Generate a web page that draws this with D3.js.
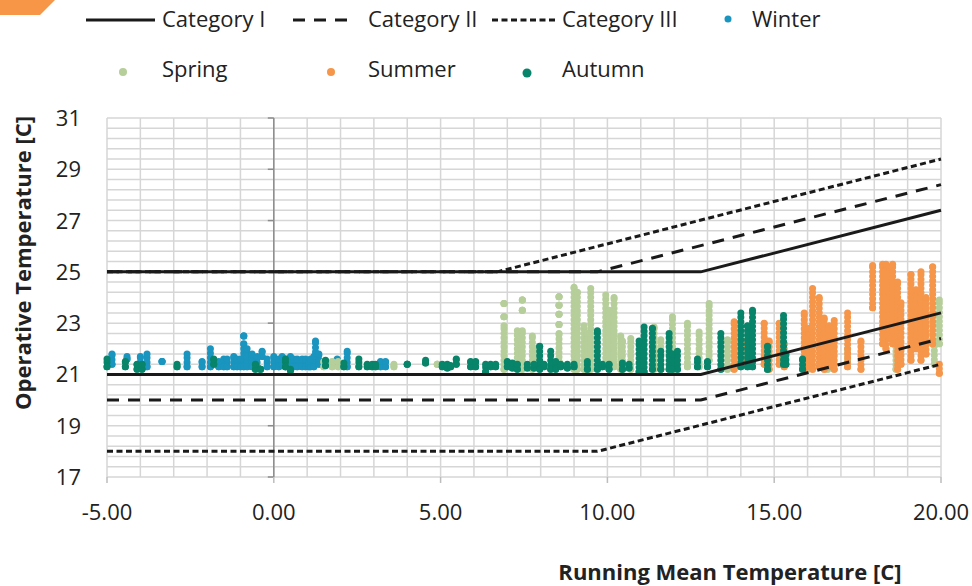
<!DOCTYPE html>
<html>
<head>
<meta charset="utf-8">
<script src="https://cdn.jsdelivr.net/npm/d3@7/dist/d3.min.js"></script>
<style>
  body { margin: 0; background: #fff; }
  svg { display: block; font-family: "Open Sans", "Liberation Sans", sans-serif; }
</style>
</head>
<body>
<svg id="chart" width="972" height="586"></svg>
<script>
// axis ticks
const xTicks = [-5, 0, 5, 10, 15, 20];
const yTicks = [17, 19, 21, 23, 25, 27, 29, 31];

// comfort category limits (upper and lower), as [x, y] vertices
const catI = [[[-5, 25], [12.8, 25], [20, 27.4]], [[-5, 21], [12.8, 21], [20, 23.4]]];
const catII = [[[-5, 25], [9.7, 25], [20, 28.4]], [[-5, 20], [12.8, 20], [20, 22.4]]];
const catIII = [[[-5, 25], [6.7, 25], [20, 29.4]], [[-5, 18], [9.7, 18], [20, 21.4]]];

// measured points, as stacks [running mean, lowest op. temp, highest op. temp]
const winter = [
  [-4.85, 21.4, 21.8], [-4.4, 21.6, 21.7], [-4.0, 21.3, 21.7], [-3.8, 21.3, 21.8],
  [-3.35, 21.5, 21.5], [-2.6, 21.3, 21.8], [-2.15, 21.3, 21.5], [-1.9, 21.3, 22.0],
  [-1.65, 21.3, 21.5], [-1.5, 21.3, 21.6], [-1.4, 21.3, 21.6], [-1.2, 21.3, 21.7],
  [-1.1, 21.3, 21.6], [-1.0, 21.3, 21.6], [-0.9, 21.3, 22.2], [-0.9, 22.5, 22.5],
  [-0.8, 21.3, 22.0], [-0.65, 21.3, 21.8], [-0.5, 21.3, 21.7], [-0.35, 21.7, 21.9],
  [-0.2, 21.3, 21.6], [0.0, 21.3, 21.7], [0.15, 21.3, 21.6], [0.25, 21.4, 21.7],
  [0.35, 21.3, 21.6], [0.5, 21.3, 21.7], [0.6, 21.3, 21.6], [0.7, 21.3, 21.6],
  [0.85, 21.3, 21.6], [0.95, 21.3, 21.6], [1.05, 21.3, 21.5], [1.1, 21.3, 21.6],
  [1.2, 21.3, 21.7], [1.25, 21.7, 22.3], [1.35, 21.4, 21.8], [1.9, 21.4, 21.6],
  [2.2, 21.3, 21.9], [3.2, 21.3, 21.5], [3.35, 21.3, 21.5]
];
const spring = [
  [1.5, 21.3, 21.5], [1.75, 21.3, 21.5], [1.93, 21.3, 21.5], [3.6, 21.3, 21.4],
  [4.9, 21.4, 21.4], [6.9, 21.2, 22.9], [6.9, 23.25, 23.25], [6.9, 23.77, 23.77],
  [7.3, 21.3, 22.7], [7.45, 21.2, 22.7], [7.45, 23.5, 23.5], [7.45, 23.9, 23.9],
  [7.75, 21.2, 22.5], [7.85, 21.3, 22.0], [8.55, 21.5, 22.6], [8.55, 22.95, 22.95],
  [8.55, 23.35, 23.35], [8.55, 23.7, 23.7], [8.55, 24.03, 24.03], [9.0, 21.2, 24.4],
  [9.1, 21.2, 24.2], [9.3, 21.2, 22.9], [9.4, 21.2, 22.6], [9.5, 21.2, 24.35],
  [9.95, 21.3, 24.1], [10.05, 21.4, 23.5], [10.2, 21.3, 24.0], [10.4, 21.2, 22.5],
  [10.45, 21.2, 22.3], [10.7, 21.2, 22.4], [11.4, 21.2, 22.85], [11.6, 21.2, 22.35],
  [11.95, 21.2, 23.25], [12.4, 21.3, 23.0], [12.75, 21.3, 22.65], [13.05, 21.55, 23.77],
  [13.6, 21.2, 22.35], [14.8, 21.2, 22.3], [16.0, 21.2, 21.6], [16.6, 21.2, 21.4],
  [17.2, 21.4, 22.0], [18.65, 21.2, 23.0], [19.8, 21.4, 22.2], [19.95, 22.2, 23.9]
];
const summer = [
  [13.8, 21.2, 23.05], [14.2, 21.55, 22.35], [14.7, 21.4, 23.0], [14.85, 21.2, 22.3],
  [15.15, 21.4, 23.0], [15.3, 21.3, 22.2], [15.9, 21.2, 23.4], [16.05, 21.3, 22.8],
  [16.15, 21.2, 24.35], [16.35, 21.3, 24.0], [16.5, 21.2, 23.2], [16.65, 21.3, 22.9],
  [16.8, 21.2, 23.1], [17.2, 21.3, 23.4], [17.6, 21.2, 22.3], [17.95, 23.6, 25.25],
  [18.25, 22.2, 25.3], [18.35, 22.0, 25.3], [18.45, 22.4, 25.2], [18.55, 22.2, 25.3],
  [18.7, 21.2, 24.6], [18.8, 21.4, 23.8], [19.1, 21.55, 24.9], [19.25, 22.0, 24.3],
  [19.4, 21.55, 25.0], [19.55, 21.8, 24.0], [19.75, 22.2, 25.2], [19.95, 21.05, 21.4]
];
const autumn = [
  [-5.0, 21.3, 21.6], [-4.45, 21.3, 21.5], [-4.1, 21.2, 21.4], [-3.95, 21.2, 21.4],
  [-2.9, 21.3, 21.4], [-1.8, 21.4, 21.6], [-0.55, 21.2, 21.4], [-0.4, 21.2, 21.2],
  [0.35, 21.3, 21.6], [0.5, 21.15, 21.2], [1.55, 21.35, 21.55], [2.1, 21.3, 21.45],
  [2.55, 21.3, 21.6], [2.8, 21.3, 21.4], [2.95, 21.3, 21.4], [3.05, 21.3, 21.4],
  [4.0, 21.4, 21.4], [4.55, 21.45, 21.55], [5.05, 21.3, 21.4], [5.2, 21.25, 21.4],
  [5.3, 21.3, 21.35], [5.47, 21.4, 21.6], [5.9, 21.3, 21.5], [6.05, 21.3, 21.5],
  [6.35, 21.1, 21.4], [6.5, 21.3, 21.4], [6.65, 21.3, 21.4], [7.0, 21.3, 21.5],
  [7.15, 21.25, 21.45], [7.3, 21.2, 21.4], [7.6, 21.25, 21.4], [7.8, 21.25, 21.4],
  [7.97, 21.2, 22.1], [8.1, 21.3, 21.4], [8.3, 21.2, 21.9], [8.45, 21.2, 21.5],
  [8.6, 21.3, 21.4], [8.8, 21.25, 21.4], [9.0, 21.3, 21.4], [9.4, 21.2, 21.5],
  [9.7, 21.2, 22.7], [9.85, 21.3, 21.4], [10.05, 21.2, 21.4], [10.45, 21.2, 21.45],
  [10.65, 21.25, 21.4], [10.95, 21.1, 22.3], [11.1, 21.1, 22.85], [11.35, 21.2, 22.8],
  [11.6, 21.2, 21.9], [11.85, 21.2, 22.6], [11.95, 21.2, 21.8], [12.1, 21.2, 21.9],
  [12.7, 21.3, 21.6], [13.0, 21.3, 21.5], [13.4, 21.2, 22.6], [14.0, 21.3, 23.4],
  [14.2, 21.3, 22.9], [14.35, 21.3, 23.5], [14.8, 21.2, 22.1], [15.28, 21.4, 23.3],
  [15.35, 21.4, 21.8], [15.85, 21.2, 21.6]
];

const svg = d3.select("#chart");
const margin = {left: 107, right: 31, top: 118, bottom: 109};
const W = 972, H = 586;

let x = d3.scaleLinear().domain([-5, 20]).range([margin.left, W - margin.right]);
let y = d3.scaleLinear().domain([17, 31]).range([H - margin.bottom, margin.top]);

const textColor = "#222";
const gridColor = "#d6d6d6";
const colors = {winter: "#1995bf", spring: "#b5ce9a", summer: "#f5964a", autumn: "#078469"};

// orange corner mark
svg.append("polygon")
    .attr("points", "0,0 55,0 40,15 0,15")
    .attr("fill", "#f79646");

// grid
let grid = svg.append("g");
grid.selectAll("line.h")
    .data(d3.range(17, 31.001, 0.4))
    .enter().append("line")
    .attr("x1", x(-5)).attr("x2", x(20))
    .attr("y1", (d) => y(d)).attr("y2", (d) => y(d))
    .attr("stroke", gridColor).attr("stroke-width", 1.5);
grid.selectAll("line.v")
    .data(d3.range(-5, 20.001, 1))
    .enter().append("line")
    .attr("y1", y(17)).attr("y2", y(31))
    .attr("x1", (d) => x(d)).attr("x2", (d) => x(d))
    .attr("stroke", gridColor).attr("stroke-width", 1.5);

// y axis sits at x = 0
svg.append("line")
    .attr("x1", x(0)).attr("x2", x(0))
    .attr("y1", y(17)).attr("y2", y(31))
    .attr("stroke", "#8c8c8c").attr("stroke-width", 1.5);
svg.selectAll("line.ytick")
    .data(yTicks)
    .enter().append("line")
    .attr("x1", x(0) - 6).attr("x2", x(0))
    .attr("y1", (d) => y(d)).attr("y2", (d) => y(d))
    .attr("stroke", "#8c8c8c").attr("stroke-width", 1.5);
svg.selectAll("line.xtick")
    .data(xTicks)
    .enter().append("line")
    .attr("x1", (d) => x(d)).attr("x2", (d) => x(d))
    .attr("y1", y(17)).attr("y2", y(17) + 6)
    .attr("stroke", "#bdbdbd").attr("stroke-width", 1.5);

// tick labels
svg.selectAll("text.ylab")
    .data(yTicks)
    .enter().append("text")
    .attr("x", 81).attr("y", (d) => y(d) + 8)
    .attr("text-anchor", "end")
    .attr("font-size", 22).attr("fill", textColor)
    .text((d) => d);
svg.selectAll("text.xlab")
    .data(xTicks)
    .enter().append("text")
    .attr("x", (d) => x(d)).attr("y", 520)
    .attr("text-anchor", "middle")
    .attr("font-size", 22).attr("fill", textColor)
    .text((d) => d.toFixed(2));

// titles
svg.append("text")
    .attr("transform", "translate(31,263) rotate(-90)")
    .attr("text-anchor", "middle")
    .attr("font-size", 22).attr("font-weight", "bold").attr("fill", textColor)
    .text("Operative Temperature [C]");
svg.append("text")
    .attr("x", 730).attr("y", 580)
    .attr("text-anchor", "middle")
    .attr("font-size", 22).attr("font-weight", "bold").attr("fill", textColor)
    .text("Running Mean Temperature [C]");

// scatter stacks: beaded columns of dots, with a dot at each end
function drawSeason(data, color) {
    let g = svg.append("g");
    g.selectAll("line")
        .data(data)
        .enter().append("line")
        .attr("x1", (d) => x(d[0])).attr("x2", (d) => x(d[0]))
        .attr("y1", (d) => y(d[1])).attr("y2", (d) => y(d[2]))
        .attr("stroke", color)
        .attr("stroke-width", 7)
        .attr("stroke-linecap", "round")
        .attr("stroke-dasharray", "0,4.5");
    g.selectAll("circle.lo")
        .data(data)
        .enter().append("circle")
        .attr("cx", (d) => x(d[0])).attr("cy", (d) => y(d[1])).attr("r", 3.5)
        .attr("fill", color);
    g.selectAll("circle.hi")
        .data(data)
        .enter().append("circle")
        .attr("cx", (d) => x(d[0])).attr("cy", (d) => y(d[2])).attr("r", 3.5)
        .attr("fill", color);
}
drawSeason(winter, colors.winter);
drawSeason(spring, colors.spring);
drawSeason(summer, colors.summer);
drawSeason(autumn, colors.autumn);

// category lines
let line = d3.line().x((d) => x(d[0])).y((d) => y(d[1]));
function drawCategory(segs, dash) {
    svg.append("g").selectAll("path")
        .data(segs)
        .enter().append("path")
        .attr("d", line)
        .attr("fill", "none")
        .attr("stroke", "#1a1a1a")
        .attr("stroke-width", 3)
        .attr("stroke-dasharray", dash);
}
drawCategory(catIII, "6,3.5");
drawCategory(catII, "12,9");
drawCategory(catI, null);

// legend
const legendLines = [
    {label: "Category I", x0: 86, x1: 155, tx: 162, dash: null},
    {label: "Category II", x0: 293, x1: 350, tx: 368, dash: "12,9"},
    {label: "Category III", x0: 492, x1: 555, tx: 562, dash: "6,3.5"}
];
let lg = svg.append("g");
legendLines.forEach((d) => {
    lg.append("line")
        .attr("x1", d.x0).attr("x2", d.x1).attr("y1", 20).attr("y2", 20)
        .attr("stroke", "#1a1a1a").attr("stroke-width", 3)
        .attr("stroke-dasharray", d.dash);
    lg.append("text")
        .attr("x", d.tx).attr("y", 27)
        .attr("font-size", 22).attr("fill", textColor)
        .text(d.label);
});
const legendDots = [
    {label: "Winter", cx: 728, cy: 19, tx: 752, ty: 27, r: 3.5, color: colors.winter},
    {label: "Spring", cx: 123, cy: 72, tx: 162, ty: 77, r: 4, color: colors.spring},
    {label: "Summer", cx: 331, cy: 72, tx: 368, ty: 77, r: 4, color: colors.summer},
    {label: "Autumn", cx: 527, cy: 73, tx: 562, ty: 77, r: 4.5, color: colors.autumn}
];
legendDots.forEach((d) => {
    lg.append("circle")
        .attr("cx", d.cx).attr("cy", d.cy).attr("r", d.r)
        .attr("fill", d.color);
    lg.append("text")
        .attr("x", d.tx).attr("y", d.ty)
        .attr("font-size", 22).attr("fill", textColor)
        .text(d.label);
});
</script>
</body>
</html>
